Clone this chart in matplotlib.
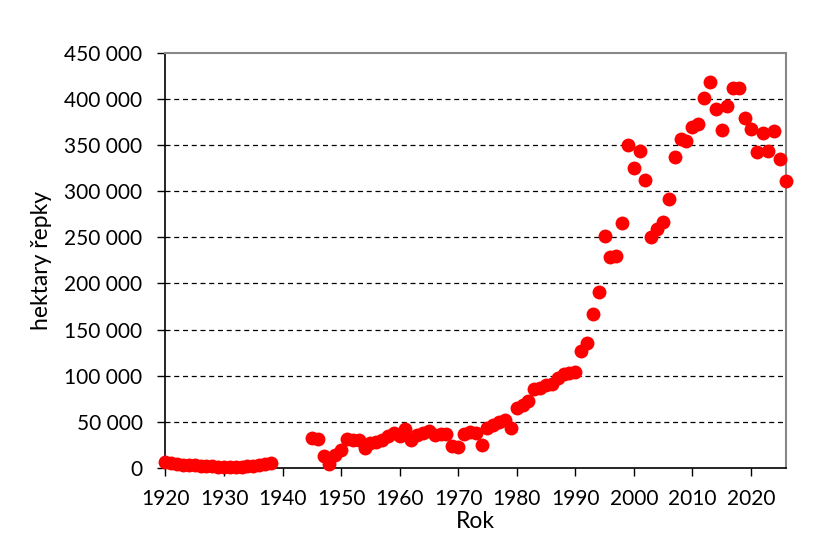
import matplotlib
matplotlib.use("Agg")
import matplotlib.pyplot as plt
from matplotlib.ticker import FuncFormatter

plt.rcParams['font.family'] = ['Lato', 'DejaVu Sans']

# osevni plochy repky (ha) podle roku
years_early = list(range(1920, 1939))
area_early = [6000, 4500, 3500, 3200, 3000, 2600, 2200, 1800, 1400, 1100,
              900, 800, 800, 900, 1200, 1800, 2600, 3600, 5000]

years_post = list(range(1945, 1980))
area_post = [32000, 31000, 13000, 3500, 13500, 19500, 31000, 29500, 30000, 21000,
             27000, 27500, 29500, 34000, 38000, 34500, 42000, 29500, 35500, 37500,
             40000, 35000, 37000, 36500, 23500, 22500, 37000, 38500, 38000, 25000,
             43000, 46000, 49000, 52000, 43000]

years_late = list(range(1980, 2027))
area_late = [64500, 68000, 72000, 85500, 86500, 90000, 90500, 97000, 101500, 102500,
             104000, 126500, 135500, 167000, 190500, 251500, 228500, 229500, 265500, 350000,
             325000, 343500, 312000, 250000, 259000, 266500, 291500, 337000, 357000, 354500,
             369500, 373500, 401000, 419000, 389500, 367000, 393000, 412000, 412000, 379500,
             367500, 342500, 363500, 344000, 366000, 335500, 311500]

years = years_early + years_post + years_late
area = area_early + area_post + area_late

x_ticks = list(range(1920, 2030, 10))
y_ticks = list(range(0, 450001, 50000))

fig = plt.figure(figsize=(8.25, 5.52), dpi=100)
ax = fig.add_axes([0.2006, 0.1529, 0.7521, 0.7505])

ax.plot(years, area, 'o', color='#ff0000', markersize=10, markeredgewidth=0,
        clip_on=False, zorder=3)

ax.set_xlim(1920, 2026)
ax.set_ylim(0, 450000)
ax.set_xticks(x_ticks)
ax.set_yticks(y_ticks)
ax.yaxis.set_major_formatter(FuncFormatter(lambda v, p: f"{int(v):,}".replace(",", " ")))

for y in y_ticks[1:-1]:
    ax.axhline(y, color='black', linewidth=0.9, linestyle=(0, (4, 3)), zorder=1)

ax.spines['left'].set_color('black')
ax.spines['bottom'].set_color('black')
ax.spines['left'].set_linewidth(1.2)
ax.spines['bottom'].set_linewidth(1.2)
ax.spines['top'].set_color('#888888')
ax.spines['right'].set_color('#888888')
ax.spines['top'].set_linewidth(1.5)
ax.spines['right'].set_linewidth(1.5)

ax.tick_params(axis='both', direction='out', length=5.5, width=1, labelsize=15,
               colors='black')
ax.tick_params(axis='y', pad=11)
ax.tick_params(axis='x', pad=10)

ax.set_xlabel('Rok', fontsize=16.5, labelpad=1)
ax.set_ylabel('hektary řepky', fontsize=16.5, labelpad=9)

fig.savefig('out.png', dpi=100)
